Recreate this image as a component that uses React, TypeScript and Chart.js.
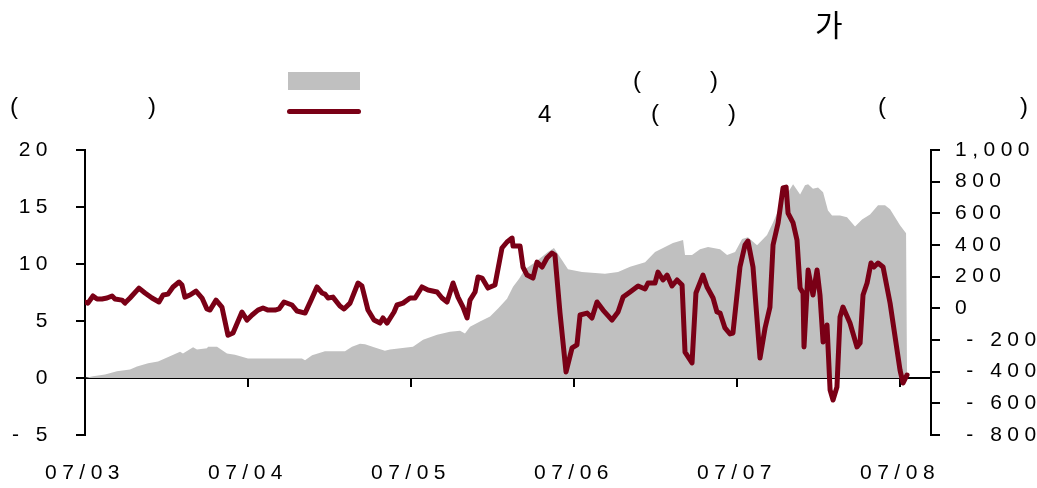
import React, { useEffect, useRef } from "react";
import { Chart, registerables } from "chart.js";

Chart.register(...registerables);

// x positions are months elapsed since the start of 2007/03
const monthLabels = ["07/03", "07/04", "07/05", "07/06", "07/07", "07/08"];

const lineT = [
  0, 0.018, 0.049, 0.074, 0.104, 0.135, 0.166, 0.184, 0.227, 0.245,
  0.276, 0.331, 0.368, 0.411, 0.454, 0.479, 0.509, 0.54, 0.577, 0.595,
  0.613, 0.644, 0.681, 0.718, 0.748, 0.767, 0.804, 0.84, 0.877, 0.908,
  0.963, 0.994, 1.025, 1.061, 1.092, 1.123, 1.166, 1.19, 1.221, 1.27,
  1.301, 1.35, 1.387, 1.423, 1.454, 1.472, 1.491, 1.521, 1.564, 1.589,
  1.626, 1.675, 1.699, 1.736, 1.773, 1.81, 1.828, 1.853, 1.896, 1.914,
  1.951, 1.994, 2.025, 2.067, 2.104, 2.16, 2.19, 2.221, 2.258, 2.288,
  2.319, 2.344, 2.362, 2.393, 2.411, 2.436, 2.472, 2.515, 2.558, 2.589,
  2.62, 2.626, 2.669, 2.687, 2.712, 2.748, 2.773, 2.804, 2.834, 2.865,
  2.883, 2.914, 2.951, 2.988, 3.018, 3.037, 3.08, 3.11, 3.141, 3.178,
  3.233, 3.27, 3.301, 3.344, 3.393, 3.436, 3.454, 3.497, 3.515, 3.546,
  3.571, 3.601, 3.632, 3.663, 3.681, 3.724, 3.748, 3.791, 3.816, 3.853,
  3.877, 3.896, 3.926, 3.957, 3.975, 4.018, 4.049, 4.067, 4.098, 4.141,
  4.172, 4.202, 4.221, 4.252, 4.282, 4.301, 4.313, 4.344, 4.368, 4.387,
  4.405, 4.411, 4.436, 4.466, 4.491, 4.509, 4.528, 4.552, 4.571, 4.589,
  4.613, 4.632, 4.65, 4.693, 4.736, 4.755, 4.773, 4.798, 4.822, 4.84,
  4.865, 4.896, 4.939, 5.0, 5.018, 5.043,
];

const lineV = [
  40, 33, 78, 59, 59, 65, 78, 59, 52, 33,
  65, 128, 97, 65, 40, 84, 90, 135, 166, 147,
  71, 84, 109, 65, -4, -11, 52, 8, -170, -156,
  -23, -74, -42, -11, 2, -11, -11, -4, 40, 21,
  -17, -30, 52, 135, 97, 90, 65, 71, 15, -4,
  33, 160, 141, -11, -74, -93, -61, -93, -23, 21,
  33, 65, 65, 135, 116, 103, 65, 40, 160, 71,
  8, -61, 52, 103, 198, 191, 128, 147, 381, 419,
  444, 393, 393, 261, 210, 191, 292, 261, 318, 349,
  337, -30, -402, -250, -231, -42, -30, -61, 40, -11,
  -74, -23, 71, 103, 141, 122, 160, 160, 229, 179,
  210, 141, 179, 147, -276, -345, 97, 210, 135, 65,
  -23, -30, -124, -162, -156, 261, 400, 425, 261, -314,
  -124, 8, 400, 539, 760, 766, 602, 539, 431, 128,
  97, -244, 242, 84, 242, 84, -213, -105, -516, -579,
  -497, -55, 8, -93, -244, -219, 84, 160, 286, 261,
  286, 261, 33, -390, -472, -421,
];

const areaT = [
  0, 0.049, 0.123, 0.196, 0.276, 0.319, 0.387, 0.448, 0.521, 0.583,
  0.601, 0.663, 0.687, 0.748, 0.755, 0.81, 0.871, 0.92, 1.0, 1.166,
  1.331, 1.35, 1.393, 1.472, 1.595, 1.638, 1.687, 1.718, 1.773, 1.84,
  1.871, 2.012, 2.074, 2.16, 2.239, 2.301, 2.331, 2.362, 2.423, 2.485,
  2.534, 2.589, 2.626, 2.663, 2.699, 2.761, 2.84, 2.877, 2.926, 2.963,
  3.049, 3.19, 3.27, 3.344, 3.436, 3.497, 3.546, 3.607, 3.669, 3.681,
  3.724, 3.773, 3.822, 3.896, 3.939, 3.988, 4.031, 4.067, 4.123, 4.184,
  4.221, 4.282, 4.313, 4.344, 4.387, 4.417, 4.436, 4.466, 4.497, 4.528,
  4.558, 4.583, 4.632, 4.675, 4.724, 4.767, 4.816, 4.865, 4.908, 4.939,
  5.0, 5.037, 5.043,
];

const areaV = [
  0, 0.15, 0.3, 0.6, 0.75, 1.0, 1.3, 1.45, 1.9, 2.3,
  2.15, 2.7, 2.5, 2.6, 2.75, 2.75, 2.15, 2.05, 1.7, 1.7,
  1.7, 1.55, 2.0, 2.35, 2.35, 2.75, 3.0, 2.95, 2.7, 2.4,
  2.5, 2.75, 3.35, 3.8, 4.05, 4.15, 3.9, 4.5, 4.95, 5.4,
  6.1, 6.95, 8.0, 8.7, 9.55, 10.15, 11.05, 11.4, 10.35, 9.55,
  9.3, 9.15, 9.3, 9.75, 10.15, 11.05, 11.4, 11.85, 12.1, 10.8,
  10.8, 11.3, 11.5, 11.3, 10.8, 11.05, 12.2, 12.35, 11.65, 12.55,
  13.65, 15.65, 16.3, 17.0, 16.1, 16.9, 17.0, 16.6, 16.7, 16.3,
  14.7, 14.25, 14.25, 14.1, 13.3, 13.9, 14.35, 15.15, 15.15, 14.8,
  13.4, 12.7, 0,
];

const leftMin = -5;
const leftMax = 20;
const leftStep = 5;
const rightMin = -800;
const rightMax = 1000;
const rightStep = 200;

const FONT = "'Liberation Sans', Arial, sans-serif";
const LINE_COLOR = "#7a0016";
const AREA_COLOR = "#c0c0c0";

function fmtNum(v: number): string {
  const a = Math.abs(v).toLocaleString("en-US");
  return v < 0 ? "- " + a : a;
}

export default function App() {
  const ref = useRef<HTMLCanvasElement>(null);

  useEffect(() => {
    if (!ref.current) return;
    const spacing = {
      id: "spacing",
      beforeUpdate(c: any) {
        c.ctx.letterSpacing = "5.5px";
      },
      beforeDraw(c: any) {
        c.ctx.letterSpacing = "5.5px";
      },
    };
    const tickFont = { family: FONT, size: 21 };
    const chart = new Chart(ref.current, {
      type: "line",
      data: {
        datasets: [
          {
            data: lineT.map((t, i) => ({ x: t, y: lineV[i] })),
            xAxisID: "x",
            yAxisID: "y1",
            borderColor: LINE_COLOR,
            borderWidth: 5,
            borderJoinStyle: "round",
            borderCapStyle: "round",
            pointRadius: 0,
            tension: 0,
            fill: false,
          },
          {
            data: areaT.map((t, i) => ({ x: t, y: areaV[i] })),
            xAxisID: "x",
            yAxisID: "y",
            borderWidth: 0,
            borderColor: AREA_COLOR,
            backgroundColor: AREA_COLOR,
            pointRadius: 0,
            tension: 0,
            fill: "origin",
          },
        ],
      },
      plugins: [spacing],
      options: {
        animation: false,
        responsive: false,
        maintainAspectRatio: false,
        layout: { padding: { top: 150, left: 0, right: 0, bottom: 0 } },
        plugins: {
          legend: { display: false },
          tooltip: { enabled: false },
          title: { display: false },
        },
        scales: {
          x: {
            type: "linear",
            position: { y: 0 } as any,
            min: 0,
            max: 5.19,
            ticks: { display: false, stepSize: 1, includeBounds: false } as any,
            grid: {
              drawOnChartArea: false,
              drawTicks: true,
              tickLength: 8,
              color: "#000",
              lineWidth: 2,
            },
            border: { display: true, color: "#000", width: 2 },
          },
          xb: {
            type: "linear",
            position: "bottom",
            min: 0,
            max: 5.19,
            afterFit(s: any) {
              s.height = 53;
            },
            ticks: {
              stepSize: 1,
              includeBounds: false,
              autoSkip: false,
              maxRotation: 0,
              padding: 18,
              color: "#000",
              font: tickFont,
              callback: (v: any) => {
                const i = Math.round(Number(v));
                return Math.abs(Number(v) - i) < 1e-6 ? monthLabels[i] ?? "" : "";
              },
            } as any,
            grid: { display: false },
            border: { display: false },
          },
          y: {
            type: "linear",
            position: "left",
            min: leftMin,
            max: leftMax,
            afterFit(s: any) {
              s.width = 85;
            },
            ticks: {
              stepSize: leftStep,
              padding: 23,
              color: "#000",
              font: tickFont,
              callback: (v: any) => fmtNum(Number(v)),
            },
            grid: {
              drawOnChartArea: false,
              drawTicks: true,
              tickLength: 9,
              color: "#000",
              lineWidth: 2,
            },
            border: { display: true, color: "#000", width: 2 },
          },
          y1: {
            type: "linear",
            position: "right",
            min: rightMin,
            max: rightMax,
            afterFit(s: any) {
              s.width = 106;
            },
            ticks: {
              stepSize: rightStep,
              padding: 15,
              color: "#000",
              font: tickFont,
              callback: (v: any) => {
                const n = Number(v);
                return n < 0 ? " " + fmtNum(n) : fmtNum(n);
              },
            },
            grid: {
              drawOnChartArea: false,
              drawTicks: true,
              tickLength: 9,
              color: "#000",
              lineWidth: 2,
            },
            border: { display: true, color: "#000", width: 2 },
          },
        },
      } as any,
    });
    return () => chart.destroy();
  }, []);

  const txt = (left: number, top: number, s: string, size = 24): React.ReactNode => (
    <span
      key={`${left}-${top}-${s}`}
      style={{
        position: "absolute",
        left,
        top,
        fontFamily: FONT,
        fontSize: size,
        lineHeight: `${size}px`,
        color: "#000",
        whiteSpace: "pre",
      }}
    >
      {s}
    </span>
  );

  return (
    <div
      style={{
        position: "fixed",
        left: 0,
        top: 0,
        width: 1037,
        height: 488,
        background: "#fff",
        overflow: "hidden",
      }}
    >
      <canvas
        ref={ref}
        width={1037}
        height={488}
        style={{ position: "absolute", left: 0, top: 0, width: 1037, height: 488 }}
      />
      <span
        style={{
          position: "absolute",
          left: 815,
          top: 8,
          fontFamily: "'Noto Sans CJK KR', sans-serif",
          fontSize: 30,
          lineHeight: "30px",
          color: "#000",
        }}
      >
        가
      </span>
      <div style={{ position: "absolute", left: 288, top: 72, width: 72, height: 18, background: AREA_COLOR }} />
      <div
        style={{
          position: "absolute",
          left: 287,
          top: 109,
          width: 74,
          height: 5,
          borderRadius: 3,
          background: LINE_COLOR,
        }}
      />
      {txt(10, 94, "(")}
      {txt(148, 94, ")")}
      {txt(633, 68, "(")}
      {txt(710, 68, ")")}
      {txt(538, 102, "4")}
      {txt(651, 101, "(")}
      {txt(728, 101, ")")}
      {txt(878, 94, "(")}
      {txt(1020, 94, ")")}
    </div>
  );
}
